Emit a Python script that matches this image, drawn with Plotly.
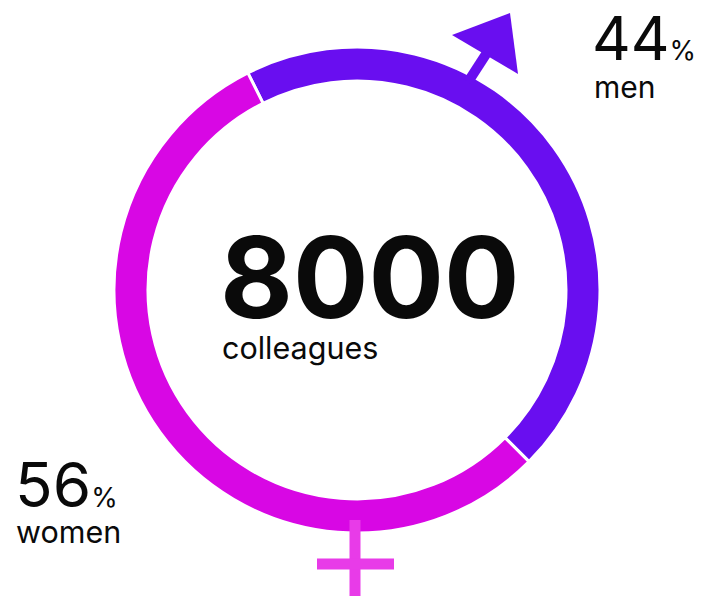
import plotly.graph_objects as go

labels = ["men", "women"]
printed_pct = [44, 56]      # the percentages as printed
arc_shares = [44.9, 55.1]   # the ring's arcs as measured on the picture
colors = ["#690ef0", "#d807e4"]
total = "8000"
unit = "colleagues"

W, H = 702, 596
cx, cy = 357, 290
R = 243

def px(x): return x / W
def py(y): return 1 - y / H

fig = go.Figure(go.Pie(
    labels=labels, values=arc_shares, hole=0.86, sort=False, direction="clockwise",
    rotation=-26.7, textinfo="none", hoverinfo="label",
    marker=dict(colors=colors, line=dict(color="white", width=3)),
    domain=dict(x=[px(cx - R), px(cx + R)], y=[py(cy + R), py(cy - R)]),
    showlegend=False,
))

shapes = [
    dict(type="line", xref="paper", yref="paper", x0=px(468), y0=py(82), x1=px(490), y1=py(48), line=dict(color="#690ef0", width=10)),
    dict(type="path", xref="paper", yref="paper", path=f"M {px(452)} {py(35)} L {px(510)} {py(13)} L {px(518)} {py(74)} Z", fillcolor="#690ef0", line=dict(width=0)),
    dict(type="line", xref="paper", yref="paper", x0=px(355), y0=py(520), x1=px(355), y1=py(596), line=dict(color="#e83be8", width=11)),
    dict(type="line", xref="paper", yref="paper", x0=px(317), y0=py(564), x1=px(394), y1=py(564), line=dict(color="#e83be8", width=11)),
]

def t(x, y, s, size, weight=400):
    return dict(x=px(x), y=py(y), xref="paper", yref="paper", text=s, showarrow=False, xanchor="left", yanchor="middle",
                font=dict(family="Inter", size=size, color="#0a0a0a", weight=weight))

annotations = [
    t(218, 277, total, 112, weight=650),
    t(220, 347, unit, 30.5),
    t(590, 38, f"{printed_pct[0]}<span style='font-size:27px'>%</span>", 60),
    t(592, 87, labels[0], 30),
    t(13, 484, f"{printed_pct[1]}<span style='font-size:27px'>%</span>", 62),
    t(14, 531, labels[1], 30.5),
]

fig.update_layout(width=W, height=H, margin=dict(l=0, r=0, t=0, b=0), paper_bgcolor="white",
                  shapes=shapes, annotations=annotations)
fig.write_html("out.html", config=dict(displayModeBar=False),
               post_script="document.body.style.margin='0';document.body.style.overflow='hidden';")
